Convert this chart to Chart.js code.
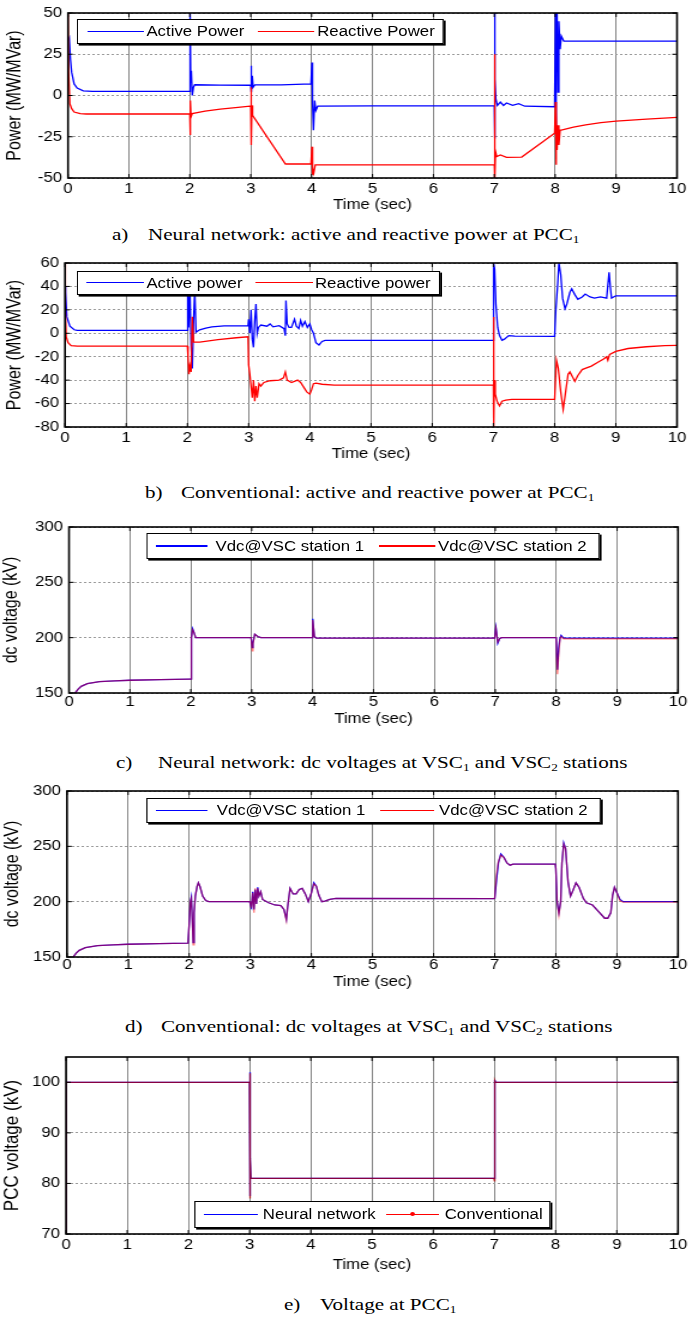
<!DOCTYPE html>
<html><head><meta charset="utf-8">
<script src="https://cdn.jsdelivr.net/npm/chart.js@4.4.1/dist/chart.umd.min.js"></script>
<style>
html,body{margin:0;padding:0;background:#fff;}
body{width:692px;height:1319px;overflow:hidden;position:relative;}
#stage{position:absolute;left:0;top:0;width:577px;height:1319px;transform:scaleX(1.199307);transform-origin:0 0;background:#fff;}
.panel{position:absolute;left:0;}
.legend{position:absolute;box-sizing:border-box;border:1px solid #000;box-shadow:1.6px 1.6px 0 #000;background:#fff;font-family:'Liberation Sans',Arial,Helvetica,sans-serif;font-size:14px;color:#000;}
.legend .s{position:absolute;height:1.3px;}
.legend .d{position:absolute;width:4px;height:4px;border-radius:2px;background:#f00;}
.legend .t{position:absolute;white-space:nowrap;}
.cap{position:absolute;font-family:'Liberation Serif','Times New Roman',Times,serif;font-size:17.6px;line-height:17.6px;white-space:nowrap;color:#000;}
.cap .m{position:absolute;top:0;}
.cap .sb{font-size:11px;position:relative;top:3px;}
</style>
</head><body>
<div id="stage"></div>
<script>
// ---------- data ----------
const xTicks = [0,1,2,3,4,5,6,7,8,9,10];
const xTitle = 'Time (sec)';

// a) Neural network: active and reactive power
const aYTicks = [-50,-25,0,25,50];
const aNames = ['Active Power','Reactive Power'];
const aActiveT = [0,0.005,0.02,0.04,0.06,0.1,0.15,0.25,0.4, 2.0,2.005,2.015,2.025,2.04,2.06,2.08,2.5,2.99, 3.0,3.005,3.015,3.025,3.04,3.07,3.5,3.99, 4.0,4.005,4.015,4.03,4.05,4.07,4.1,5.0,6.99, 7.0,7.003,7.008,7.015,7.025,7.05,7.1,7.15,7.2,7.3,7.4,7.5,7.99, 8.0,8.005,8.01,8.02,8.03,8.045,8.06,8.08,8.1,8.14,9.0,10.0];
const aActiveV = [35,34,35,22,14,7,4.5,2.8,2.5, 2.5,50,8,15,0,5,6.5,6.3,6.2, 6.2,18,2,12,5,6.5,6.5,7, 7,20,-5,-21,-3,-9,-6.5,-6.3,-6.3, -6.3,50,-26,10,-2,-6,-4,-6,-4.5,-6,-5,-6.5,-6.8, -6.8,50,-20,30,50,2,45,28,36,33,33,33];
const aReactiveT = [0,0.01,0.03,0.06,0.1,0.2,0.3, 2.0,2.005,2.012,2.02,2.04,2.25,2.5,2.75,2.99, 3.0,3.005,3.012,3.02,3.03,3.57,3.99, 4.0,4.005,4.012,4.02,4.035,4.06,5.0,6.99, 7.0,7.003,7.008,7.012,7.02,7.04,7.1,7.2,7.45,7.99, 8.0,8.005,8.012,8.02,8.03,8.045,8.06,8.08,8.1,8.3,8.5,8.75,9.0,9.5,10.0];
const aReactiveV = [50,15,-5,-8,-10,-11,-11.2, -11.2,-24,-3,-13,-11,-9.5,-8.3,-7.3,-6.5, -6.5,5,-30,-6,-12,-41.5,-41.5, -41.5,-31,-48,-44,-47,-42,-42,-42, -42,-50,25,-50,-34,-37,-36,-37.5,-37.3,-22.8, -22.8,-4,-42,-10,-33,-18,-30,-21,-21,-19.2,-17.8,-16.5,-15.5,-14.3,-13.3];

// b) Conventional: active and reactive power
const bYTicks = [-80,-60,-40,-20,0,20,40,60];
const bNames = ['Active power','Reactive power'];
const bActiveT = [0,0.01,0.03,0.08,0.15,0.2, 2.0,2.005,2.02,2.04,2.06,2.08,2.1,2.12,2.14,2.2,2.3,2.4,2.6,2.99, 3.0,3.02,3.04,3.06,3.08,3.1,3.12,3.14,3.16,3.2,3.3,3.35,3.4,3.5,3.58,3.6,3.61,3.63,3.66,3.7,3.75,3.78,3.82,3.85,3.88,3.92,3.96, 4.0,4.03,4.06,4.1,4.15,4.2,4.25,6.99, 7.0,7.003,7.02,7.04,7.07,7.1,7.14,7.18,7.25,7.35,7.99, 8.0,8.02,8.05,8.07,8.1,8.13,8.17,8.2,8.25,8.28,8.33,8.38,8.45,8.5,8.58,8.65,8.75,8.85,8.89,8.91,8.93,9.0,10.0];
const bActiveV = [40,35,14,6,3,2.5, 2.5,38,5,40,-10,-30,10,37,1,3,4.5,5.5,6.3,6.3, 12,0,20,-5,-12,10,25,0,5,7,6,8,5.5,6.5,4,-2,28,8,5,5,12,6,4,11,6,10,5, 8,3,0,-8,-10,-7,-6,-6, -6,60,55,25,5,-2,-6,-5,-2,-2.5,-2.6, -2.6,20,42,60,50,30,21,25,35,38,33,29,31,33.5,31,30,31,30,52,40,30,32,32];
const bReactiveT = [0,0.005,0.02,0.05,0.1,0.2, 2.0,2.01,2.025,2.04,2.06,2.08,2.1,2.2,2.5,2.8,2.99, 3.0,3.02,3.04,3.06,3.08,3.1,3.12,3.14,3.17,3.2,3.25,3.35,3.5,3.57,3.6,3.63,3.7,3.8,3.85,3.9,3.95, 4.0,4.03,4.06,4.1,4.2,4.4,6.99, 7.0,7.003,7.008,7.015,7.03,7.06,7.1,7.14,7.2,7.3,7.99, 8.0,8.03,8.06,8.1,8.14,8.18,8.22,8.25,8.3,8.33,8.38,8.45,8.5,8.6,8.7,8.8,8.85,8.87,8.9,9.0,9.2,9.5,9.8,10.0];
const bReactiveV = [60,20,-3,-8,-10.5,-11, -11,-20,-35,-28,-33,14,-7.5,-7.5,-5.5,-3.8,-3, -27,-35,-45,-55,-40,-58,-45,-55,-43,-45,-42,-40.5,-40,-38,-33,-40,-42,-40,-42,-46,-50, -52,-48,-43,-42.5,-43.5,-44.2,-44.3, -44.3,14,-80,-40,-52,-58,-62,-58,-57,-56.5,-56.5, -56.5,-23,-30,-50,-65,-50,-35,-33,-38,-41,-36,-31,-30,-28,-25,-22,-20,-23,-18,-15.5,-13,-11.5,-10.5,-10.3];

// c) Neural network: dc voltages
const cYTicks = [150,200,250,300];
const cNames = ['Vdc@VSC station 1','Vdc@VSC station 2'];
const cT = [0.08,0.1,0.15,0.2,0.3,0.5,0.75,1.0,1.5,1.99, 2.0,2.01,2.03,2.05,2.08,2.99, 3.0,3.01,3.02,3.05,3.1,3.15,3.99, 4.0,4.005,4.015,4.03,4.06,6.99, 7.0,7.01,7.02,7.04,7.07,7.1,7.98, 8.0,8.01,8.02,8.04,8.06,8.08,8.12,10.0];
const cVdc1 = [146,150,153.5,156,158.5,160.2,161,161.5,162,162.5, 162.5,200,208,205,200,200, 200,191,195,203,201,200,200, 200,217,209,201,199.5,199.5, 199.5,209,205,195,199,200,200, 200,185,171,190,199,202,199.5,199.5];
const cVdc2 = [146,150,153.5,156,158.5,160.2,161,161.5,162,162.5, 162.5,200,207,205,200,200, 200,188,194,203,201,200,200, 200,216,209,201,199.5,199.5, 199.5,208,204,196,199,200,200, 200,180,167,185,198,201,199,199];

// d) Conventional: dc voltages
const dYTicks = [150,200,250,300];
const dNames = ['Vdc@VSC station 1','Vdc@VSC station 2'];
const dT = [0.08,0.1,0.15,0.2,0.3,0.5,0.75,1.0,1.5,1.98, 2.0,2.02,2.035,2.05,2.065,2.08,2.1,2.13,2.15,2.18,2.22,2.27,2.32,2.99, 3.0,3.02,3.04,3.06,3.08,3.1,3.12,3.14,3.17,3.2,3.3,3.4,3.5,3.55,3.59,3.61,3.65,3.7,3.75,3.8,3.85,3.9,3.95, 4.0,4.04,4.08,4.12,4.17,4.22,4.3,4.4,6.99, 7.0,7.03,7.06,7.1,7.15,7.2,7.25,7.3,7.99, 8.0,8.02,8.05,8.08,8.1,8.13,8.16,8.2,8.24,8.28,8.33,8.38,8.45,8.5,8.6,8.7,8.8,8.85,8.9,8.93,8.96,9.0,9.05,9.1,10.0];
const dVdc1 = [146,150,153.5,156,158.5,160.2,161,161.5,162,162.5, 180,200,204,185,163,190,205,214,217,213,205,201,200,200, 198,195,209,193,211,198,213,205,209,202,199,197,196.5,193,184,195,212,207,207,211,212,207,200, 208,217,214,206,200,200.5,202,203,202.8, 203,220,235,243,240,235,233,234,234, 230,200,190,200,235,253,248,218,205,210,217,213,203,199,197,191,185,185,190,206,213,208,202,200,200];
const dVdc2 = [146,150,153.5,156,158.5,160.2,161,161.5,162,162.5, 180,200,203,184,161,190,205,214,217,213,205,201,200,200, 198,196,208,190,212,198,212,205,209,202,199,197,196.5,193,183,195,212,207,207,211,212,207,200, 208,216,214,206,200,200.5,202,203,202.8, 203,225,236,242,240,235,233,234,234, 230,201,188,200,235,252,248,218,205,210,217,213,203,199,197,191,185,185,190,206,213,208,201,199.5,199.5];

// e) Voltage at PCC1
const eYTicks = [70,80,90,100];
const eNames = ['Neural network','Conventional'];
const eT = [0,0.003,3.0,3.003,3.008,3.012,3.02,3.03,6.99,7.0,7.004,7.008,7.015,10.0];
const eNeural = [70,100,100,102,77.5,85,81,81,81,81,84,100.5,100,100];
const eConv   = [70,100,100,101.8,77,85,81,81,81,80.5,84,100.3,100,100];

// ---------- rendering ----------
const W = 577, S = 692 / W;
const F = "'Liberation Sans', Arial, Helvetica, sans-serif";
const BLUE = '#0000ff', RED = '#ff0000';
const stage = document.getElementById('stage');

const frame = {
  id: 'frame',
  afterDatasetsDraw(chart) {
    const {ctx, chartArea: a, scales} = chart;
    ctx.save();
    ctx.strokeStyle = '#000';
    ctx.lineWidth = 1;
    ctx.beginPath();
    scales.x.ticks.forEach(t => {
      const px = scales.x.getPixelForValue(t.value);
      ctx.moveTo(px, a.top); ctx.lineTo(px, a.top + 4);
      ctx.moveTo(px, a.bottom); ctx.lineTo(px, a.bottom - 4);
    });
    scales.y.ticks.forEach(t => {
      const py = scales.y.getPixelForValue(t.value);
      ctx.moveTo(a.left, py); ctx.lineTo(a.left + 4, py);
      ctx.moveTo(a.right, py); ctx.lineTo(a.right - 4, py);
    });
    ctx.stroke();
    ctx.lineWidth = 1.6;
    ctx.strokeRect(a.left, a.top, a.right - a.left, a.bottom - a.top);
    ctx.restore();
  }
};

function pts(t, v) { return t.map((x, i) => ({x: x, y: v[i]})); }

function makePanel(p) {
  const wrapTop = p.T - 14;
  const H = Math.round(p.titleC + 10.4 - wrapTop);
  const plotH = p.B - p.T;
  const div = document.createElement('div');
  div.className = 'panel';
  div.style.top = wrapTop + 'px';
  div.style.width = W + 'px';
  div.style.height = H + 'px';
  const cv = document.createElement('canvas');
  cv.width = W; cv.height = H;
  cv.style.width = W + 'px'; cv.style.height = H + 'px';
  div.appendChild(cv);
  stage.appendChild(div);
  const yLH = p.ytSize * 1.2;
  new Chart(cv.getContext('2d'), {
    type: 'line',
    data: {
      datasets: p.series.map(s => ({
        label: s.name, data: pts(s.t, s.v), borderColor: s.color,
        borderWidth: 1.3, pointRadius: 0, tension: 0, fill: false, order: s.order
      }))
    },
    options: {
      responsive: false, animation: false, devicePixelRatio: 1,
      layout: {padding: {top: 14, right: (692 - p.R) / S, left: 0, bottom: 0}},
      plugins: {legend: {display: false}, tooltip: {enabled: false}},
      scales: {
        x: {
          type: 'linear', min: 0, max: 10,
          afterBuildTicks: s => { s.ticks = xTicks.map(v => ({value: v})); },
          afterFit: s => { s.height = H - 14 - plotH; },
          ticks: {padding: Math.max(0, p.tickC - p.B - 8.4), font: {family: F, size: 14}, color: '#000', maxRotation: 0, autoSkip: false},
          grid: {color: '#858585', lineWidth: 1, drawTicks: false},
          border: {display: false},
          title: {display: true, text: xTitle, font: {family: F, size: 14}, color: '#000', padding: {top: 0, bottom: 2}}
        },
        y: {
          type: 'linear', min: p.ymin, max: p.ymax,
          afterBuildTicks: s => { s.ticks = p.yTicks.map(v => ({value: v})); },
          afterFit: s => { s.width = p.L / S; },
          ticks: {padding: 5, font: {family: F, size: 14}, color: '#000', autoSkip: false},
          grid: {color: '#9a9a9a', lineWidth: 1, drawTicks: false},
          border: {display: false, dash: [2, 2]},
          title: {display: true, text: p.ytitle, font: {family: F, size: p.ytSize}, color: '#000', padding: {top: Math.max(0, p.yTitleX / S - yLH / 2), bottom: 0}}
        }
      }
    },
    plugins: [frame]
  });
}

function makeLegend(spec, names, colors) {
  const [x0, x1, y0, y1] = spec.box;
  const box = document.createElement('div');
  box.className = 'legend';
  box.style.left = (x0 / S) + 'px';
  box.style.top = y0 + 'px';
  box.style.width = ((x1 - x0) / S) + 'px';
  box.style.height = (y1 - y0) + 'px';
  const ih = y1 - y0 - 2;
  spec.items.forEach((it, i) => {
    const ln = document.createElement('div');
    ln.className = 's';
    ln.style.left = ((it.s[0] - x0) / S - 1) + 'px';
    ln.style.width = ((it.s[1] - it.s[0]) / S) + 'px';
    ln.style.top = (ih / 2 - 0.65) + 'px';
    ln.style.background = colors[i];
    box.appendChild(ln);
    if (it.dot) {
      const d = document.createElement('div');
      d.className = 'd';
      d.style.left = (((it.s[0] + it.s[1]) / 2 - x0) / S - 3) + 'px';
      d.style.top = (ih / 2 - 2) + 'px';
      box.appendChild(d);
    }
    const tx = document.createElement('div');
    tx.className = 't';
    tx.textContent = names[i];
    tx.style.left = ((it.tx - x0) / S - 1) + 'px';
    tx.style.top = '0px';
    tx.style.lineHeight = ih + 'px';
    box.appendChild(tx);
  });
  stage.appendChild(box);
}

function makeCaption(c) {
  const d = document.createElement('div');
  d.className = 'cap';
  d.style.left = (c.lx / S) + 'px';
  d.style.top = (c.cy - 8.9) + 'px';
  d.appendChild(document.createTextNode(c.label));
  const m = document.createElement('span');
  m.className = 'm';
  m.style.left = ((c.tx - c.lx) / S) + 'px';
  c.parts.forEach(pt => {
    if (typeof pt === 'string') {
      m.appendChild(document.createTextNode(pt));
    } else {
      const sb = document.createElement('span'); sb.className = 'sb'; sb.textContent = pt.subText; m.appendChild(sb);
    }
  });
  d.appendChild(m);
  stage.appendChild(d);
}

const panels = [
  {T: 13, B: 178, L: 68, R: 677, tickC: 189, titleC: 206, yTitleX: 15, ymin: -50, ymax: 50, yTicks: aYTicks, ytitle: 'Power (MW/MVar)', ytSize: 16,
   series: [{name: aNames[1], t: aReactiveT, v: aReactiveV, color: RED, order: 0}, {name: aNames[0], t: aActiveT, v: aActiveV, color: BLUE, order: 1}]},
  {T: 263, B: 427, L: 65, R: 677, tickC: 438, titleC: 455, yTitleX: 15, ymin: -80, ymax: 60, yTicks: bYTicks, ytitle: 'Power (MW/MVar)', ytSize: 16,
   series: [{name: bNames[1], t: bReactiveT, v: bReactiveV, color: RED, order: 0}, {name: bNames[0], t: bActiveT, v: bActiveV, color: BLUE, order: 1}]},
  {T: 527, B: 693, L: 69, R: 678, tickC: 702, titleC: 720, yTitleX: 12, ymin: 150, ymax: 300, yTicks: cYTicks, ytitle: 'dc voltage (kV)', ytSize: 16,
   series: [{name: cNames[1], t: cT, v: cVdc2, color: 'rgba(255,0,0,0.5)', order: 0}, {name: cNames[0], t: cT, v: cVdc1, color: BLUE, order: 1}]},
  {T: 791, B: 957, L: 67, R: 678, tickC: 965, titleC: 983, yTitleX: 13, ymin: 150, ymax: 300, yTicks: dYTicks, ytitle: 'dc voltage (kV)', ytSize: 16,
   series: [{name: dNames[1], t: dT, v: dVdc2, color: 'rgba(255,0,0,0.5)', order: 0}, {name: dNames[0], t: dT, v: dVdc1, color: BLUE, order: 1}]},
  {T: 1057, B: 1234, L: 66, R: 678, tickC: 1245, titleC: 1266, yTitleX: 12.7, ymin: 70, ymax: 105, yTicks: eYTicks, ytitle: 'PCC voltage (kV)', ytSize: 17,
   series: [{name: eNames[1], t: eT, v: eConv, color: 'rgba(180,0,0,0.75)', order: 0}, {name: eNames[0], t: eT, v: eNeural, color: BLUE, order: 1}]}
];
panels.forEach(makePanel);

makeLegend({box: [76.8, 443.6, 19.3, 44], items: [{s: [87.8, 144.2], tx: 146.4}, {s: [257.8, 314.6], tx: 317.2}]}, aNames, [BLUE, RED]);
makeLegend({box: [76.8, 440, 270.7, 295], items: [{s: [86.9, 144.2], tx: 146.4}, {s: [255.6, 312.8], tx: 315}]}, bNames, [BLUE, RED]);
makeLegend({box: [146.5, 600, 533, 559], items: [{s: [156.2, 207.7], tx: 215.6}, {s: [378.5, 434.9], tx: 438}]}, cNames, [BLUE, RED]);
makeLegend({box: [146.3, 600.6, 798, 822.7], items: [{s: [156, 208], tx: 216.7}, {s: [379.6, 434.6], tx: 439}]}, dNames, [BLUE, RED]);
makeLegend({box: [193.7, 550.3, 1201, 1227.7], items: [{s: [203.4, 257.5], tx: 262.8}, {s: [386.1, 438.9], tx: 444.7, dot: true}]}, eNames, [BLUE, RED]);

makeCaption({label: 'a)', lx: 112, tx: 148, cy: 235, parts: ['Neural network: active and reactive power at PCC', {subText: '1'}]});
makeCaption({label: 'b)', lx: 145, tx: 181, cy: 493, parts: ['Conventional: active and reactive power at PCC', {subText: '1'}]});
makeCaption({label: 'c)', lx: 116, tx: 158, cy: 763, parts: ['Neural network: dc voltages at VSC', {subText: '1'}, ' and VSC', {subText: '2'}, ' stations']});
makeCaption({label: 'd)', lx: 125, tx: 161, cy: 1027, parts: ['Conventional: dc voltages at VSC', {subText: '1'}, ' and VSC', {subText: '2'}, ' stations']});
makeCaption({label: 'e)', lx: 284, tx: 320, cy: 1305, parts: ['Voltage at PCC', {subText: '1'}]});
</script>
</body></html>
